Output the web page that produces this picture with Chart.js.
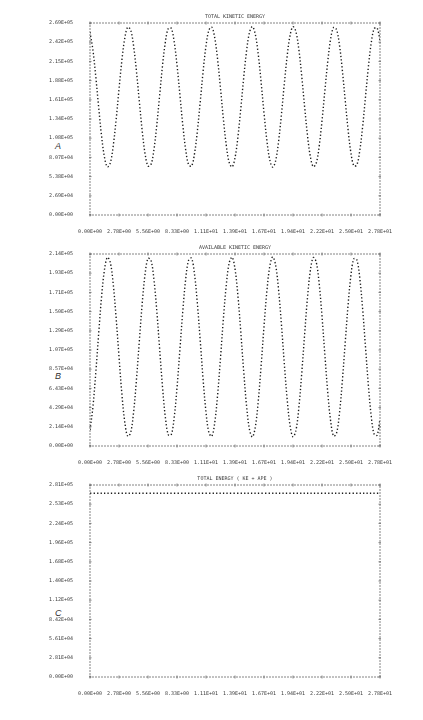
<!DOCTYPE html>
<html>
<head>
<meta charset="utf-8">
<script src="https://cdn.jsdelivr.net/npm/chart.js@4.4.1/dist/chart.umd.min.js"></script>
<style>
  body { margin: 0; background: #fff; width: 423px; height: 720px; position: relative; overflow: hidden; }
  canvas { position: absolute; left: 0; }
  .tag { position: absolute; left: 55px; font: italic 9px "Liberation Sans", sans-serif; color: #333; }
</style>
</head>
<body>
<div class="tag" style="top:141px">A</div>
<div class="tag" style="top:371px">B</div>
<div class="tag" style="top:608px">C</div>
<canvas id="chartA" width="423" height="235" style="top:0px"></canvas>
<canvas id="chartB" width="423" height="235" style="top:231px"></canvas>
<canvas id="chartC" width="423" height="235" style="top:462px"></canvas>
<script>
// one printer column per time step
const timeStep = 0.278;
const tickStep = 2.78;

const xTickLabels = ['0.00E+00', '2.78E+00', '5.56E+00', '8.33E+00', '1.11E+01', '1.39E+01',
    '1.67E+01', '1.94E+01', '2.22E+01', '2.50E+01', '2.78E+01'];

// A - total kinetic energy
const kineticTotal = [256300, 231300, 193600, 150400, 110200, 80700, 67400, 73000, 96500, 133200,
    176100, 217000, 247900, 263100, 259500, 237700, 202000, 159400, 117900, 85600,
    68600, 70300, 90300, 124800, 167100, 209100, 242700, 261400, 261700, 243500,
    210200, 168400, 126000, 91100, 70600, 68400, 84800, 116800, 158100, 200900,
    236800, 259100, 263200, 248600, 218100, 177300, 134400, 97400, 73500, 67300,
    80000, 109200, 149100, 192300, 230300, 255800, 263900, 253200, 225500, 186300,
    143000, 104100, 77000, 67000, 75900, 102100, 140400, 183500, 223200, 251900,
    263800, 256900, 232400, 195000, 151900, 111400, 81400, 67600, 72500, 95500,
    131800, 174700, 215700, 247200, 262900, 259900, 238700, 203400, 160900, 119200,
    86400, 68900, 70000, 89400, 123400, 165600, 207800, 241800, 261100, 262000,
    244400];
const yMaxA = 269000;
const yLabelsA = ['0.00E+00', '2.69E+04', '5.38E+04', '8.07E+04', '1.08E+05', '1.34E+05',
    '1.61E+05', '1.88E+05', '2.15E+05', '2.42E+05', '2.69E+05'];

// B - available kinetic energy
const kineticAvailable = [17800, 43400, 81900, 125900, 166900, 197000, 210600, 204900, 181000, 143500,
    99600, 57900, 26400, 10900, 14600, 36800, 73200, 116700, 159000, 192000,
    209400, 207600, 187200, 152000, 108900, 66000, 31700, 12600, 12300, 30900,
    64900, 107600, 150800, 186400, 207300, 209600, 192800, 160100, 118000, 74400,
    37700, 15000, 10800, 25700, 56800, 98400, 142300, 179900, 204400, 210700,
    197700, 168000, 127200, 83200, 44400, 18300, 10100, 21100, 49300, 89300,
    133400, 173100, 200700, 211000, 202000, 175200, 136100, 92100, 51600, 22400,
    10200, 17200, 42300, 80500, 124400, 165700, 196300, 210400, 205400, 182000,
    144900, 101200, 59200, 27200, 11100, 14200, 35800, 71800, 115200, 157700,
    191200, 209100, 208000, 188200, 153400, 110400, 67400, 32600, 12900, 12000,
    30000];
const yMaxB = 214300;
const yLabelsB = ['0.00E+00', '2.14E+04', '4.29E+04', '6.43E+04', '8.57E+04', '1.07E+05',
    '1.29E+05', '1.50E+05', '1.71E+05', '1.93E+05', '2.14E+05'];

// C - total energy (KE + APE), read at every 10th column
const energyTotal = [268500, 268500, 268500, 268500, 268500, 268500, 268500, 268500, 268500, 268500, 268500];
const yMaxC = 280600;
const yLabelsC = ['0.00E+00', '2.81E+04', '5.61E+04', '8.42E+04', '1.12E+05', '1.40E+05',
    '1.68E+05', '1.96E+05', '2.24E+05', '2.53E+05', '2.81E+05'];

const printFont = { family: '"DejaVu Sans Mono", monospace', size: 5 };
const inkColor = '#3a3a3a';

// dashed frame, tick marks and title like the line printer output
const printerFrame = {
    id: 'printerFrame',
    afterDraw(chart, args, opts) {
        const ctx = chart.ctx;
        const a = chart.chartArea;
        ctx.save();
        ctx.strokeStyle = '#666';
        ctx.lineWidth = 0.8;
        ctx.setLineDash([2, 1]);
        ctx.strokeRect(a.left, a.top, a.width, a.height);
        ctx.setLineDash([]);
        ctx.beginPath();
        chart.scales.x.ticks.forEach(t => {
            const px = chart.scales.x.getPixelForValue(t.value);
            ctx.moveTo(px, a.top - 1.5); ctx.lineTo(px, a.top + 1.5);
            ctx.moveTo(px, a.bottom - 1.5); ctx.lineTo(px, a.bottom + 1.5);
        });
        chart.scales.y.ticks.forEach(t => {
            const py = chart.scales.y.getPixelForValue(t.value);
            ctx.moveTo(a.left - 1, py); ctx.lineTo(a.left + 1.5, py);
            ctx.moveTo(a.right - 1.5, py); ctx.lineTo(a.right + 1, py);
        });
        ctx.stroke();
        ctx.fillStyle = inkColor;
        ctx.font = '5px "DejaVu Sans Mono", monospace';
        ctx.textAlign = 'center';
        ctx.textBaseline = 'middle';
        ctx.fillText(opts.text, (a.left + a.right) / 2, a.top - 6);
        ctx.restore();
    }
};

function makePanel(id, xs, ys, yMax, yLabels, title) {
    const ctx = document.getElementById(id).getContext('2d');
    return new Chart(ctx, {
        type: 'line',
        data: {
            datasets: [{
                data: ys.map((v, i) => ({ x: xs[i], y: v })),
                borderColor: '#1a1a1a',
                borderWidth: 1.4,
                borderDash: [1.3, 2.2],
                pointRadius: 0,
                tension: 0.35,
                fill: false
            }]
        },
        options: {
            responsive: false,
            animation: false,
            devicePixelRatio: 1,
            layout: { padding: { top: 23, right: 43, left: 0, bottom: 0 } },
            scales: {
                x: {
                    type: 'linear',
                    min: 0,
                    max: 27.8,
                    grid: { display: false },
                    border: { display: false },
                    afterBuildTicks: axis => { axis.ticks = xTickLabels.map((_, i) => ({ value: i * tickStep })); },
                    afterFit: axis => { axis.height = 20; },
                    ticks: {
                        autoSkip: false,
                        maxRotation: 0,
                        padding: 6,
                        font: printFont,
                        color: inkColor,
                        callback: (v, i) => xTickLabels[i]
                    }
                },
                y: {
                    min: 0,
                    max: yMax,
                    grid: { display: false },
                    border: { display: false },
                    afterBuildTicks: axis => { axis.ticks = yLabels.map((_, i) => ({ value: yMax * i / 10 })); },
                    afterFit: axis => { axis.width = 90; },
                    ticks: {
                        autoSkip: false,
                        padding: 9,
                        font: printFont,
                        color: inkColor,
                        callback: (v, i) => yLabels[i]
                    }
                }
            },
            plugins: {
                legend: { display: false },
                tooltip: { enabled: false },
                printerFrame: { text: title }
            }
        },
        plugins: [printerFrame]
    });
}

const times = kineticTotal.map((_, i) => +(i * timeStep).toFixed(3));
const tickTimes = energyTotal.map((_, i) => +(i * tickStep).toFixed(2));

makePanel('chartA', times, kineticTotal, yMaxA, yLabelsA, 'TOTAL KINETIC ENERGY');
makePanel('chartB', times, kineticAvailable, yMaxB, yLabelsB, 'AVAILABLE KINETIC ENERGY');
makePanel('chartC', tickTimes, energyTotal, yMaxC, yLabelsC, 'TOTAL ENERGY ( KE + APE )');
</script>
</body>
</html>
